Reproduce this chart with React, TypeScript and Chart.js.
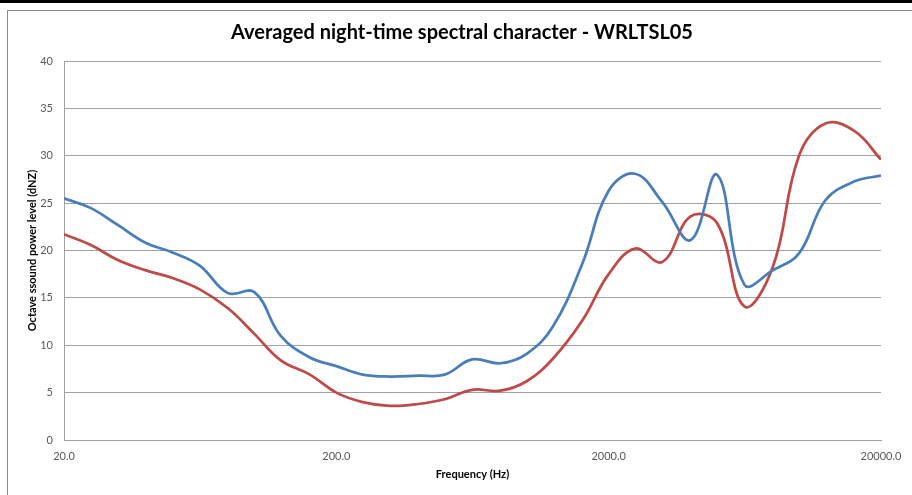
import { useEffect, useRef } from "react";
import { Chart, registerables } from "chart.js";

Chart.register(...registerables);

// 1/3-octave band centre frequencies (Hz)
const frequencies = [
  20, 25, 31.5, 40, 50, 63, 80, 100, 125, 160, 200, 250, 315, 400, 500, 630,
  800, 1000, 1250, 1600, 2000, 2500, 3150, 4000, 5000, 6300, 8000, 10000,
  12500, 16000, 20000,
];

// Blue series (dBZ)
const blueLevels = [
  25.5, 24.5, 22.7, 20.8, 19.8, 18.4, 15.5, 15.6, 11.0, 8.7, 7.8, 6.9, 6.7,
  6.8, 6.9, 8.5, 8.1, 9.1, 12.0, 18.6, 26.3, 28.1, 25.1, 21.1, 28.0, 16.4,
  17.9, 19.7, 25.3, 27.3, 27.9,
];

// Red series (dBZ)
const redLevels = [
  21.7, 20.6, 19.0, 17.9, 17.1, 15.9, 13.9, 11.2, 8.4, 6.9, 5.0, 4.0, 3.6, 3.8,
  4.3, 5.3, 5.2, 6.2, 8.6, 12.6, 17.5, 20.2, 18.8, 23.6, 22.9, 14.1, 18.2,
  30.0, 33.4, 32.6, 29.6,
];

const xTickValues = [20, 200, 2000, 20000];
const yMin = 0;
const yMax = 40;
const yStep = 5;

const titleText = "Averaged night-time spectral character - WRLTSL05";
const xTitle = "Frequency (Hz)";
const yTitle = "Octave ssound power level (dNZ)";

const FONT = "Lato, 'Liberation Sans', sans-serif";

// shifts the title block so it is centred like the original chart's title
const titleShift = {
  id: "titleShift",
  afterLayout(chart: any) {
    const tb = chart.titleBlock;
    if (tb) {
      tb.left = 43;
    }
  },
};

export default function App() {
  const ref = useRef<HTMLCanvasElement>(null);

  useEffect(() => {
    const canvas = ref.current;
    if (!canvas) return;
    const chart = new Chart(canvas, {
      type: "line",
      data: {
        datasets: [
          {
            label: "Series 1",
            data: frequencies.map((f, i) => ({ x: f, y: blueLevels[i] })),
            borderColor: "#4a7ebb",
            backgroundColor: "#4a7ebb",
            borderWidth: 2.75,
            pointRadius: 0,
            tension: 0.4,
            fill: false,
          },
          {
            label: "Series 2",
            data: frequencies.map((f, i) => ({ x: f, y: redLevels[i] })),
            borderColor: "#be4b48",
            backgroundColor: "#be4b48",
            borderWidth: 2.75,
            pointRadius: 0,
            tension: 0.4,
            fill: false,
          },
        ],
      },
      plugins: [titleShift],
      options: {
        animation: false,
        responsive: false,
        devicePixelRatio: 1,
        layout: { padding: { left: 0, right: 31, top: 10, bottom: 0 } },
        plugins: {
          legend: { display: false },
          tooltip: { enabled: false },
          title: {
            display: true,
            text: titleText,
            color: "#000000",
            font: { family: FONT, size: 20, weight: "bold" },
            padding: { top: 11, bottom: 16 },
          },
        },
        scales: {
          x: {
            type: "logarithmic",
            min: 20,
            max: 20000,
            afterBuildTicks: (s: any) => {
              s.ticks = xTickValues.map((v) => ({ value: v }));
            },
            afterFit: (s: any) => {
              s.height = 55;
            },
            grid: { display: false, drawTicks: false },
            border: { display: true, color: "#a0a0a0", width: 1 },
            ticks: {
              autoSkip: false,
              maxRotation: 0,
              padding: 10,
              color: "#595959",
              font: { family: FONT, size: 11 },
              callback: (v: any) => Number(v).toFixed(1),
            },
            title: {
              display: true,
              text: xTitle,
              color: "#000000",
              font: { family: FONT, size: 11, weight: "bold" },
              padding: { top: 0, bottom: 14 },
            },
          },
          y: {
            min: yMin,
            max: yMax,
            afterFit: (s: any) => {
              s.width = 64;
            },
            grid: { color: "#a0a0a0", lineWidth: 1, drawTicks: false },
            border: { display: true, color: "#a0a0a0", width: 1 },
            ticks: {
              stepSize: yStep,
              padding: 11,
              color: "#595959",
              font: { family: FONT, size: 11 },
            },
            title: {
              display: true,
              text: yTitle,
              color: "#000000",
              font: { family: FONT, size: 11, weight: "bold" },
              padding: { top: 26, bottom: 0 },
            },
          },
        },
      },
    });
    return () => chart.destroy();
  }, []);

  return (
    <div
      style={{
        position: "absolute",
        left: 0,
        top: 0,
        width: 912,
        height: 495,
        background: "#ffffff",
        overflow: "hidden",
      }}
    >
      <div
        style={{
          position: "absolute",
          left: 0,
          top: 0,
          width: 912,
          height: 3,
          background: "#000000",
        }}
      />
      <div
        style={{
          position: "absolute",
          left: 7,
          top: 10,
          width: 920,
          height: 500,
          borderLeft: "1px solid #8c8c8c",
          borderTop: "1px solid #8c8c8c",
        }}
      />
      <canvas
        ref={ref}
        width={912}
        height={495}
        style={{ position: "absolute", left: 0, top: 0 }}
      />
    </div>
  );
}
